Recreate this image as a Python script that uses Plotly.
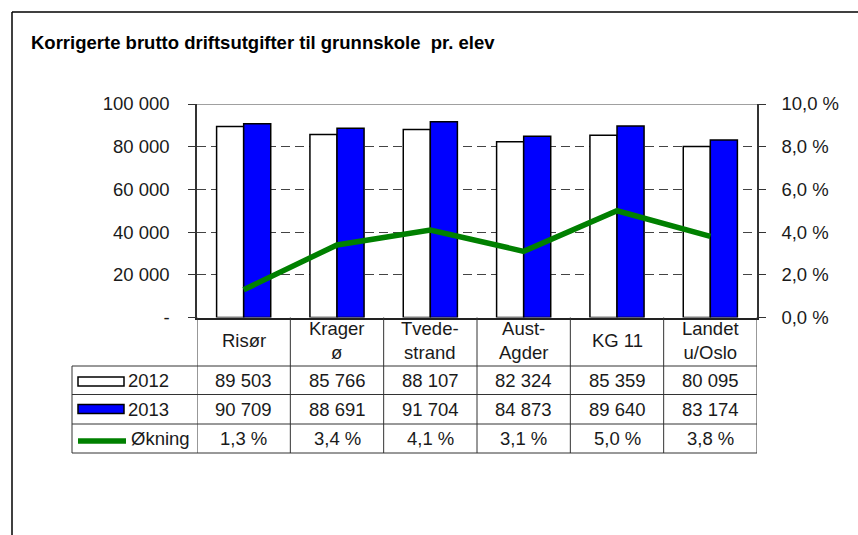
import plotly.graph_objects as go

# ---------------- data ----------------
categories = ["Risør", "Krager<br>ø", "Tvede-<br>strand", "Aust-<br>Agder", "KG 11", "Landet<br>u/Oslo"]
values_2012 = [89503, 85766, 88107, 82324, 85359, 80095]
values_2013 = [90709, 88691, 91704, 84873, 89640, 83174]
okning_pct = [1.3, 3.4, 4.1, 3.1, 5.0, 3.8]
series_names = ["2012", "2013", "Økning"]
left_tickvals = [0, 20000, 40000, 60000, 80000, 100000]
left_ticktext = ["-", "20 000", "40 000", "60 000", "80 000", "100 000"]
right_tickvals = [0, 2, 4, 6, 8, 10]
right_ticktext = ["0,0 %", "2,0 %", "4,0 %", "6,0 %", "8,0 %", "10,0 %"]
title_text = "Korrigerte brutto driftsutgifter til grunnskole  pr. elev"

# ---------------- layout helpers ----------------
W, H = 858, 535
FONT = "Liberation Sans, Arial, sans-serif"
TXT = "#1a1a1a"
FS = 18.5


def px(x):
    return x / W


def py(y):
    return 1 - y / H


PLOT_L, PLOT_R, PLOT_T, PLOT_B = 197, 757, 104, 317.5
ROW_Y = [317.5, 366, 394.5, 424, 453]  # table row boundaries (pixels)
LEG_L = 72

fig = go.Figure()
fig.add_trace(go.Bar(x=categories, y=values_2012, name=series_names[0],
                     marker=dict(color="white", line=dict(color="black", width=1.5))))
fig.add_trace(go.Bar(x=categories, y=values_2013, name=series_names[1],
                     marker=dict(color="#0000ff", line=dict(color="black", width=1.5))))
fig.add_trace(go.Scatter(x=categories, y=okning_pct, name=series_names[2], yaxis="y2",
                         mode="lines", line=dict(color="#008000", width=5.5)))

shapes = []
annotations = []

# outer chart border
shapes.append(dict(type="line", xref="paper", yref="paper", x0=px(12), x1=px(900), y0=py(12), y1=py(12),
                   line=dict(color="black", width=1.5)))
shapes.append(dict(type="line", xref="paper", yref="paper", x0=px(12), x1=px(12), y0=py(12), y1=py(560),
                   line=dict(color="black", width=1.5)))

# plot area top border (grey)
shapes.append(dict(type="line", xref="paper", yref="y", x0=px(PLOT_L), x1=px(PLOT_R),
                   y0=left_tickvals[-1], y1=left_tickvals[-1], line=dict(color="#808080", width=1.5)))

# table: vertical lines at category boundaries
n = len(categories)
for i in range(n + 1):
    shapes.append(dict(type="line", xref="x", yref="paper", x0=i - 0.5, x1=i - 0.5,
                       y0=py(ROW_Y[0]), y1=py(ROW_Y[-1]), line=dict(color="#333", width=1)))
# horizontal row lines
for yb in ROW_Y[1:]:
    shapes.append(dict(type="line", xref="paper", yref="paper", x0=px(LEG_L), x1=px(PLOT_R),
                       y0=py(yb), y1=py(yb), line=dict(color="#333", width=1)))
# legend column left border
shapes.append(dict(type="line", xref="paper", yref="paper", x0=px(LEG_L), x1=px(LEG_L),
                   y0=py(ROW_Y[1]), y1=py(ROW_Y[-1]), line=dict(color="#333", width=1)))

# legend keys
shapes.append(dict(type="rect", xref="paper", yref="paper", x0=px(78), x1=px(124), y0=py(377), y1=py(386),
                   fillcolor="white", line=dict(color="black", width=1.5)))
shapes.append(dict(type="rect", xref="paper", yref="paper", x0=px(78), x1=px(124), y0=py(404.5), y1=py(413.5),
                   fillcolor="#0000ff", line=dict(color="black", width=1.5)))
shapes.append(dict(type="line", xref="paper", yref="paper", x0=px(78), x1=px(126), y0=py(441), y1=py(441),
                   line=dict(color="#008000", width=5.5)))

# legend labels
legend_x = [126, 126, 129]
for k, name in enumerate(series_names):
    yc = (ROW_Y[k + 1] + ROW_Y[k + 2]) / 2
    annotations.append(dict(xref="paper", yref="paper", x=px(legend_x[k]), y=py(yc), text=name,
                            showarrow=False, xanchor="left", yanchor="middle",
                            font=dict(family=FONT, size=FS, color=TXT)))

# category labels and table values
rows = [
    [f"{v:,}".replace(",", " ") for v in values_2012],
    [f"{v:,}".replace(",", " ") for v in values_2013],
    [f"{p:.1f} %".replace(".", ",") for p in okning_pct],
]
for i, cat in enumerate(categories):
    yc = (ROW_Y[0] + ROW_Y[1]) / 2
    annotations.append(dict(xref="x", yref="paper", x=cat, y=py(yc - 1.5), text=cat, showarrow=False,
                            xanchor="center", yanchor="middle",
                            font=dict(family=FONT, size=FS, color=TXT)))
    for r in range(3):
        yc = (ROW_Y[r + 1] + ROW_Y[r + 2]) / 2
        annotations.append(dict(xref="x", yref="paper", x=cat, y=py(yc), text=rows[r][i], showarrow=False,
                                xanchor="center", yanchor="middle",
                                font=dict(family=FONT, size=FS, color=TXT)))

# title
annotations.append(dict(xref="paper", yref="paper", x=px(29), y=py(42), text="<b>" + title_text + "</b>",
                        showarrow=False, xanchor="left", yanchor="middle",
                        font=dict(family=FONT, size=18.5, color="black")))

fig.update_layout(
    width=W, height=H, autosize=False,
    margin=dict(l=0, r=0, t=0, b=0, pad=0, autoexpand=False),
    paper_bgcolor="white", plot_bgcolor="white",
    showlegend=False,
    barmode="group", bargap=0.42, bargroupgap=0,
    font=dict(family=FONT, size=FS, color=TXT),
    xaxis=dict(domain=[px(PLOT_L), px(PLOT_R)], type="category", range=[-0.5, n - 0.5],
               showticklabels=False, ticks="", showline=True, linecolor="#222", linewidth=1.5,
               mirror=False, showgrid=False, zeroline=False, automargin=False),
    yaxis=dict(domain=[py(PLOT_B), py(PLOT_T)], range=[0, 100000], tickvals=left_tickvals,
               ticktext=left_ticktext, ticks="outside", ticklen=7, tickcolor="#333", tickwidth=1,
               showline=True, linecolor="#333", linewidth=1.5, automargin=False,
               showgrid=True, gridcolor="#444", gridwidth=1, griddash="9px,5px",
               zeroline=False, ticklabelstandoff=15,
               tickfont=dict(family=FONT, size=FS, color=TXT)),
    yaxis2=dict(overlaying="y", side="right", range=[0, 10], tickvals=right_tickvals,
                ticktext=right_ticktext, ticks="outside", ticklen=7, tickcolor="#333", tickwidth=1,
                showline=True, linecolor="#333", linewidth=1.5, showgrid=False, zeroline=False,
                anchor="x", ticklabelstandoff=12, automargin=False,
                tickfont=dict(family=FONT, size=FS, color=TXT)),
    shapes=shapes,
    annotations=annotations,
)

fig.write_html("out.html", config={"responsive": False, "displayModeBar": False},
               post_script="document.body.style.margin='0';document.body.style.overflow='hidden';")
